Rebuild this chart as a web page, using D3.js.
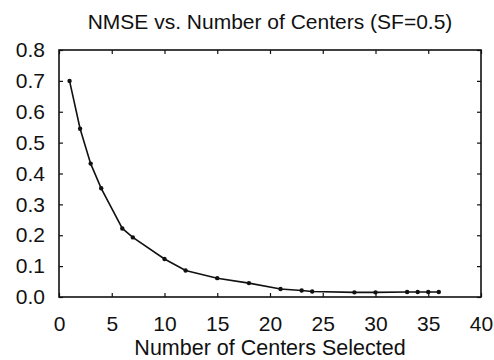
<!DOCTYPE html>
<html>
<head>
<meta charset="utf-8">
<script src="https://cdn.jsdelivr.net/npm/d3@7"></script>
<style>
  body { margin: 0; background: #fff; }
  svg text { font-family: "Liberation Sans", Arial, sans-serif; fill: #111; }
</style>
</head>
<body>
<figure style="margin:0"></figure>
<script>
const centers = [1, 2, 3, 4, 6, 7, 10, 12, 15, 18, 21, 23, 24, 28, 30, 33, 34, 35, 36];
const nmse = [0.70, 0.545, 0.432, 0.352, 0.222, 0.193, 0.123, 0.086, 0.061, 0.045, 0.026, 0.021, 0.018, 0.015, 0.015, 0.016, 0.016, 0.016, 0.016];
const xTicks = [0, 5, 10, 15, 20, 25, 30, 35, 40];
const yTicks = [0, 0.1, 0.2, 0.3, 0.4, 0.5, 0.6, 0.7, 0.8];

const width = 494;
const height = 360;
const margin = { top: 50, right: 13, bottom: 63, left: 59 };

const svg = d3.select("figure").append("svg")
  .attr("width", width).attr("height", height);

const x = d3.scaleLinear().domain([0, 40]).range([margin.left, width - margin.right]);
const y = d3.scaleLinear().domain([0, 0.8]).range([height - margin.bottom, margin.top]);

const data = centers.map((c, i) => ({ c, v: nmse[i] }));

// inward ticks on all four sides
svg.append("g")
  .attr("transform", `translate(0,${y(0)})`)
  .call(d3.axisBottom(x).tickValues(xTicks).tickSize(-4).tickPadding(19).tickFormat(d3.format("d")))
  .call(g => g.select(".domain").remove())
  .call(g => g.selectAll("text").attr("font-size", 21));

svg.append("g")
  .attr("transform", `translate(${x(0)},0)`)
  .call(d3.axisLeft(y).tickValues(yTicks).tickSize(-4).tickPadding(14).tickFormat(d3.format(".1f")))
  .call(g => g.select(".domain").remove())
  .call(g => g.selectAll("text").attr("font-size", 21));

svg.append("g")
  .attr("transform", `translate(0,${y(0.8)})`)
  .call(d3.axisTop(x).tickValues(xTicks).tickSize(-4).tickFormat(""))
  .call(g => g.select(".domain").remove());

svg.append("g")
  .attr("transform", `translate(${x(40)},0)`)
  .call(d3.axisRight(y).tickValues(yTicks).tickSize(-4).tickFormat(""))
  .call(g => g.select(".domain").remove());

svg.selectAll(".tick line").attr("stroke", "#111").attr("stroke-width", 1.2);

svg.append("rect")
  .attr("x", x(0)).attr("y", y(0.8))
  .attr("width", x(40) - x(0)).attr("height", y(0) - y(0.8))
  .attr("fill", "none").attr("stroke", "#111").attr("stroke-width", 1.6);

const line = d3.line().x(d => x(d.c)).y(d => y(d.v));

svg.append("path")
  .datum(data)
  .attr("d", line)
  .attr("fill", "none")
  .attr("stroke", "#111")
  .attr("stroke-width", 1.6);

svg.selectAll("circle.pt")
  .data(data)
  .enter()
  .append("circle")
  .attr("class", "pt")
  .attr("cx", d => x(d.c))
  .attr("cy", d => y(d.v))
  .attr("r", 2.2)
  .attr("fill", "#111");

svg.append("text")
  .attr("x", (x(0) + x(40)) / 2)
  .attr("y", 29)
  .attr("text-anchor", "middle")
  .attr("font-size", 21)
  .text("NMSE vs. Number of Centers (SF=0.5)");

svg.append("text")
  .attr("x", (x(0) + x(40)) / 2)
  .attr("y", 355)
  .attr("text-anchor", "middle")
  .attr("font-size", 21.5)
  .text("Number of Centers Selected");
</script>
</body>
</html>
